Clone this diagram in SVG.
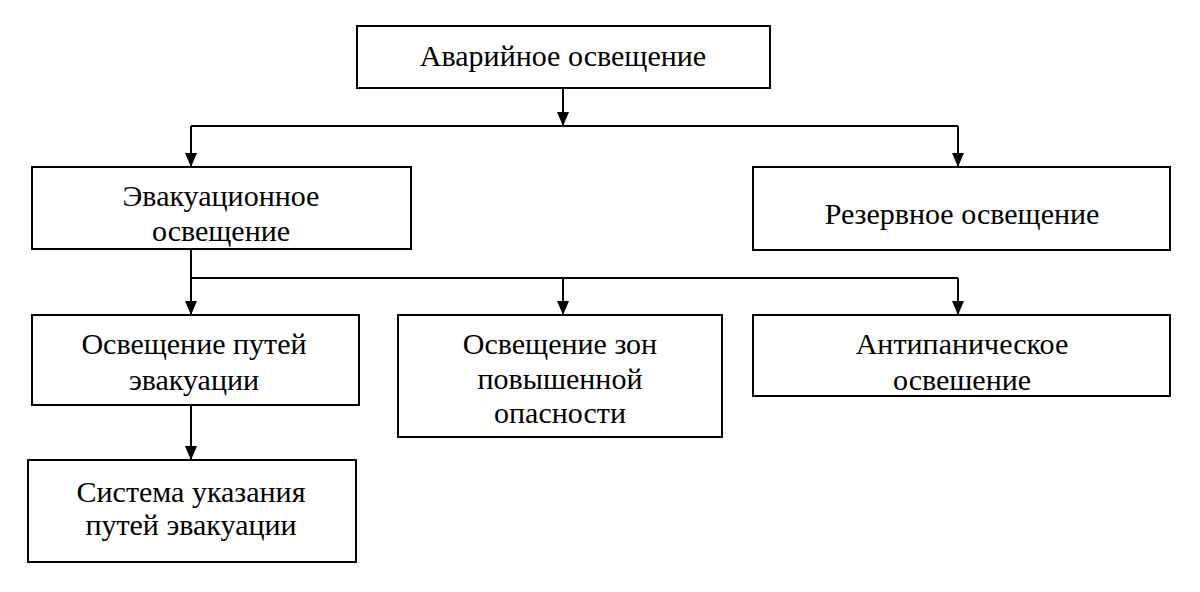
<svg xmlns="http://www.w3.org/2000/svg" width="1200" height="592" viewBox="0 0 1200 592">
<style>
.box{fill:#fff;stroke:#000;stroke-width:2}
.t{font-family:"Liberation Serif","Times New Roman",serif;font-size:30px;fill:#000;text-anchor:middle}
.c{fill:none;stroke:#000;stroke-width:2}
.a{fill:#000}
</style>
<rect width="1200" height="592" fill="#fff"/>
<g id="connectors">
<path class="c" d="M563,88 V126"/>
<path class="a" d="M557,112 L569,112 L563,126 Z"/>
<path class="c" d="M191,126 H958"/>
<path class="c" d="M191,126 V167"/>
<path class="a" d="M185,153 L197,153 L191,167 Z"/>
<path class="c" d="M958,126 V167"/>
<path class="a" d="M952,153 L964,153 L958,167 Z"/>
<path class="c" d="M191,249 V315"/>
<path class="a" d="M185,301 L197,301 L191,315 Z"/>
<path class="c" d="M191,278 H958"/>
<path class="c" d="M563,278 V315"/>
<path class="a" d="M557,301 L569,301 L563,315 Z"/>
<path class="c" d="M958,278 V315"/>
<path class="a" d="M952,301 L964,301 L958,315 Z"/>
<path class="c" d="M191,405 V460"/>
<path class="a" d="M185,446 L197,446 L191,460 Z"/>
</g>
<g id="n1">
<rect class="box" x="357" y="26" width="413" height="62"/>
<text class="t" x="563" y="66">Аварийное освещение</text>
</g>
<g id="n2">
<rect class="box" x="32" y="167" width="379" height="82"/>
<text class="t" x="221" y="206">Эвакуационное</text>
<text class="t" x="221" y="241">освещение</text>
</g>
<g id="n3">
<rect class="box" x="753" y="167" width="417" height="83"/>
<text class="t" x="962" y="224">Резервное освещение</text>
</g>
<g id="n4">
<rect class="box" x="32" y="315" width="327" height="90"/>
<text class="t" x="194" y="354">Освещение путей</text>
<text class="t" x="194" y="390">эвакуации</text>
</g>
<g id="n5">
<rect class="box" x="398" y="315" width="324" height="122"/>
<text class="t" x="560" y="354">Освещение зон</text>
<text class="t" x="560" y="389">повышенной</text>
<text class="t" x="560" y="423">опасности</text>
</g>
<g id="n6">
<rect class="box" x="753" y="315" width="417" height="81"/>
<text class="t" x="962" y="354">Антипаническое</text>
<text class="t" x="962" y="390">освешение</text>
</g>
<g id="n7">
<rect class="box" x="28" y="460" width="328" height="102"/>
<text class="t" x="191" y="502">Система указания</text>
<text class="t" x="191" y="535">путей эвакуации</text>
</g>
</svg>
